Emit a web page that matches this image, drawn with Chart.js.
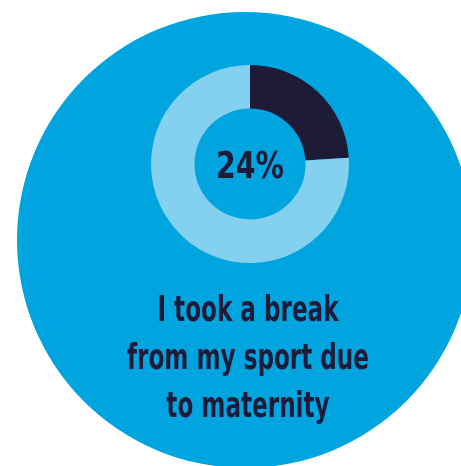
<!DOCTYPE html>
<html>
<head>
<meta charset="utf-8">
<script src="https://cdn.jsdelivr.net/npm/chart.js@4/dist/chart.umd.min.js"></script>
<style>
    html, body { margin: 0; padding: 0; background: #fff; }
    canvas { display: block; }
</style>
</head>
<body>
<canvas id="graph" width="461" height="466"></canvas>
<script>
const labels = ['Took a break due to maternity', 'Did not'];
const values = [24, 76];
const colors = ['#1e1b38', '#84d0ef'];
const caption = ['I took a break', 'from my sport due', 'to maternity'];

const navy = '#1e1b38';
const bubble = '#00a5df';
const family = '"DejaVu Sans Condensed", "DejaVu Sans", sans-serif';

// big blue disc behind the doughnut
const backdrop = {
    id: 'backdrop',
    beforeDraw(chart) {
        const ctx = chart.ctx;
        ctx.save();
        ctx.fillStyle = bubble;
        ctx.beginPath();
        ctx.arc(245, 240, 228, 0, Math.PI * 2);
        ctx.fill();
        ctx.restore();
    },
};

// squeeze text sideways so it reads like a condensed face
const squeezed = (ctx, text, x, y, sx) => {
    ctx.save();
    ctx.translate(x, y);
    ctx.scale(sx, 1);
    ctx.fillText(text, 0, 0);
    ctx.restore();
};

// percentage in the hole and the caption underneath
const texts = {
    id: 'texts',
    afterDraw(chart) {
        const ctx = chart.ctx;
        const arc = chart.getDatasetMeta(0).data[0];
        const total = values.reduce((a, b) => a + b, 0);
        const pct = Math.round(values[0] / total * 100) + '%';

        ctx.save();
        ctx.fillStyle = navy;
        ctx.textAlign = 'center';
        ctx.textBaseline = 'alphabetic';

        ctx.font = 'bold 38px ' + family;
        squeezed(ctx, pct, arc.x, arc.y + 14, 68 / ctx.measureText(pct).width);

        ctx.font = 'bold 36px ' + family;
        const sx = 242 / ctx.measureText(caption[1]).width;
        caption.forEach((line, i) => {
            squeezed(ctx, line, 248, 321 + i * 48, sx);
        });
        ctx.restore();
    },
};

new Chart('graph', {
    type: 'doughnut',

    data: {
        labels: labels,
        datasets: [{
            data: values,
            backgroundColor: colors,
            borderWidth: 0,
            hoverOffset: 0,
        }],
    },

    options: {
        responsive: false,
        animation: false,
        cutout: '56%',
        rotation: 0,
        layout: {
            padding: { left: 151, right: 112, top: 65, bottom: 203 },
        },
        plugins: {
            legend: { display: false },
            tooltip: { enabled: false },
        },
    },

    plugins: [backdrop, texts],
});
</script>
</body>
</html>
